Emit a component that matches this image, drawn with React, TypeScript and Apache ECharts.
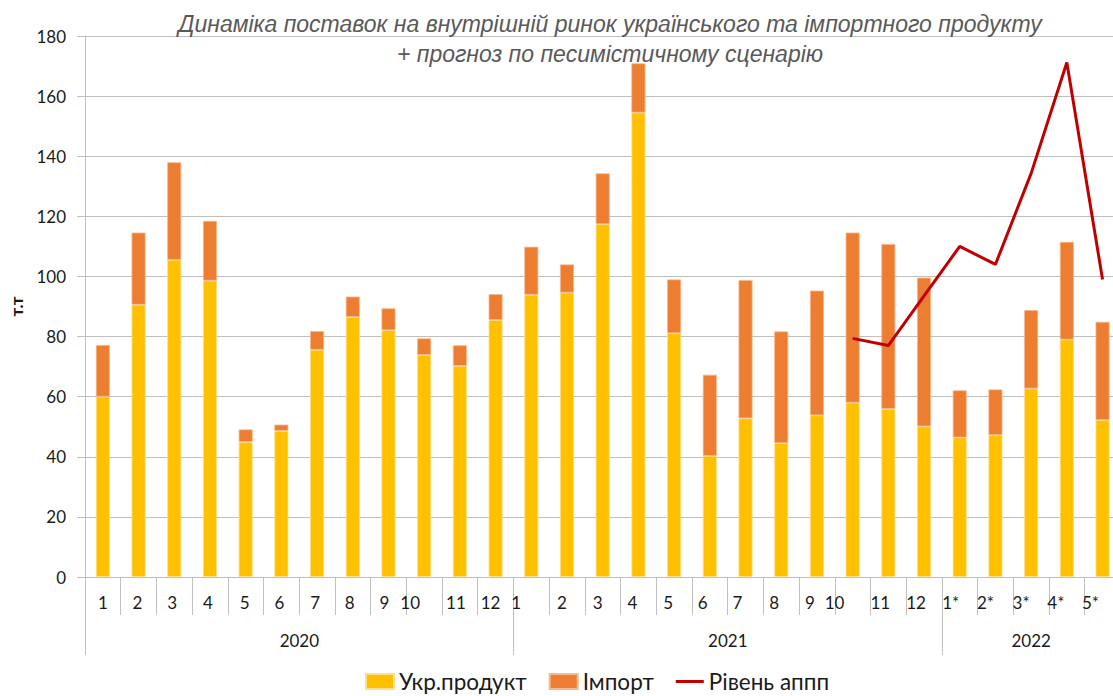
import React, { useEffect, useRef } from "react";
import * as echarts from "echarts";

const categories = ["1", "2", "3", "4", "5", "6", "7", "8", "9", "10", "11", "12",
  "1", "2", "3", "4", "5", "6", "7", "8", "9", "10", "11", "12",
  "1*", "2*", "3*", "4*", "5*"];
const years = [
  "2020", "2020", "2020", "2020", "2020", "2020", "2020", "2020", "2020", "2020", "2020", "2020",
  "2021", "2021", "2021", "2021", "2021", "2021", "2021", "2021", "2021", "2021", "2021", "2021",
  "2022", "2022", "2022", "2022", "2022"];
const ukrProduct = [60.0, 90.6, 105.5, 98.6, 44.9, 48.6, 75.6, 86.5, 82.1, 73.9, 70.2, 85.5,
  93.9, 94.6, 117.4, 154.5, 81.1, 40.3, 52.8, 44.5, 53.8, 58.0, 55.9, 50.1,
  46.4, 47.2, 62.7, 79.0, 52.2];
const importProduct = [17.2, 24.0, 32.5, 19.9, 4.2, 2.1, 6.2, 6.8, 7.3, 5.5, 6.9, 8.6,
  16.0, 9.4, 16.9, 16.4, 17.9, 27.0, 46.0, 37.2, 41.5, 56.6, 54.9, 49.5,
  15.7, 15.2, 26.1, 32.5, 32.7];
const apppLevel = [null, null, null, null, null, null, null, null, null, null, null, null,
  null, null, null, null, null, null, null, null, null, 79.4, 77.0, 93.5,
  110.0, 104.0, 134.3, 171.2, 99.0];
const yearLabelIndex = [5, 17, 26];

// horizontal nudges (px) of the month labels, imitating the original layout
const labelNudge = [0, -1, -2, -2, -1, -2, -2, -3, -4, -14, -4, -5,
  -15, -5, -5, -6, -6, -7, -8, -7, -7, -18, -8, -8,
  -9, -10, -10, -11, -12];

const FONT = "Lato, 'Noto Sans', sans-serif";
const TEXT = "#1a1a1a";

export default function App() {
  const ref = useRef<HTMLDivElement>(null);
  useEffect(() => {
    if (!ref.current) return;
    const chart = echarts.init(ref.current, null, { renderer: "svg" });
    const rich: Record<string, any> = {};
    labelNudge.forEach((n, i) => {
      rich["n" + i] = {
        fontFamily: FONT,
        fontSize: 17,
        color: TEXT,
        padding: [0, -2 * n, 0, 0],
      };
    });
    const yearRich = {
      s: { fontFamily: FONT, fontSize: 17, color: TEXT, padding: [0, 0, 0, 36] },
      c: { fontFamily: FONT, fontSize: 17, color: TEXT },
    };
    chart.setOption({
      animation: false,
      title: {
        text: "Динаміка поставок на внутрішній ринок українського та імпортного продукту\n+ прогноз по песимістичному сценарію",
        left: 605,
        top: 4,
        textAlign: "center",
        textStyle: {
          fontFamily: "'Liberation Sans', Arial, sans-serif",
          fontStyle: "italic",
          fontWeight: "normal",
          fontSize: 23,
          lineHeight: 30,
          color: "#595959",
        },
      },
      legend: {
        left: 365,
        top: 670,
        padding: 0,
        itemWidth: 28,
        itemHeight: 15,
        itemGap: 22,
        textStyle: { fontFamily: FONT, fontSize: 22.5, color: TEXT },
        data: [
          { name: "Укр.продукт", icon: "rect" },
          { name: "Імпорт", icon: "rect" },
          { name: "Рівень аппп", icon: "path://M0,0 L28,0 L28,3 L0,3 Z" },
        ],
      },
      grid: { left: 80, top: 36, bottom: 119, right: 0.6, containLabel: false },
      xAxis: [
        {
          type: "category",
          data: categories,
          position: "bottom",
          axisLine: { lineStyle: { color: "#bfbfbf", width: 1 } },
          axisTick: { show: true, length: 38, interval: 0, lineStyle: { color: "#bfbfbf" } },
          axisLabel: {
            interval: 0,
            margin: 17,
            hideOverlap: false,
            formatter: (v: string, i: number) => `{n${i}|${v}}`,
            rich,
          },
          splitLine: { show: false },
        },
        {
          type: "category",
          data: years,
          position: "bottom",
          axisLine: { show: false },
          axisTick: {
            show: true,
            length: 78,
            interval: (i: number) => i === 0 || i === 12 || i === 24,
            lineStyle: { color: "#bfbfbf" },
          },
          axisLabel: {
            margin: 55,
            hideOverlap: false,
            interval: (i: number) => yearLabelIndex.includes(i),
            formatter: (v: string, i: number) => (i === 26 ? `{c|${v}}` : `{s|${v}}`),
            rich: yearRich,
          },
        },
      ],
      yAxis: {
        type: "value",
        min: 0,
        max: 180,
        interval: 20,
        name: "т.т",
        nameLocation: "middle",
        nameGap: 60,
        nameRotate: 90,
        nameTextStyle: { fontFamily: FONT, fontSize: 17, fontWeight: "bold", color: TEXT },
        axisLine: { show: true, lineStyle: { color: "#bfbfbf" } },
        axisTick: { show: true, length: 8, lineStyle: { color: "#bfbfbf" } },
        axisLabel: { fontFamily: FONT, fontSize: 17, color: TEXT, margin: 19 },
        splitLine: { lineStyle: { color: "#bfbfbf", width: 1 } },
      },
      series: [
        {
          name: "Укр.продукт",
          type: "bar",
          stack: "total",
          data: ukrProduct,
          barWidth: 14,
          itemStyle: { color: "#FFC000", borderColor: "#FFE08A", borderWidth: 0.8 },
        },
        {
          name: "Імпорт",
          type: "bar",
          stack: "total",
          data: importProduct,
          barWidth: 14,
          itemStyle: { color: "#ED7D31", borderColor: "#F6B88E", borderWidth: 0.8 },
        },
        {
          name: "Рівень аппп",
          type: "line",
          data: apppLevel,
          showSymbol: false,
          symbol: "none",
          connectNulls: false,
          lineStyle: { color: "#C00000", width: 3 },
          itemStyle: { color: "#C00000" },
          z: 5,
        },
      ],
    });
    return () => chart.dispose();
  }, []);
  return (
    <div
      ref={ref}
      style={{ position: "fixed", left: 0, top: 0, width: 1121, height: 696, background: "#fff" }}
    />
  );
}
